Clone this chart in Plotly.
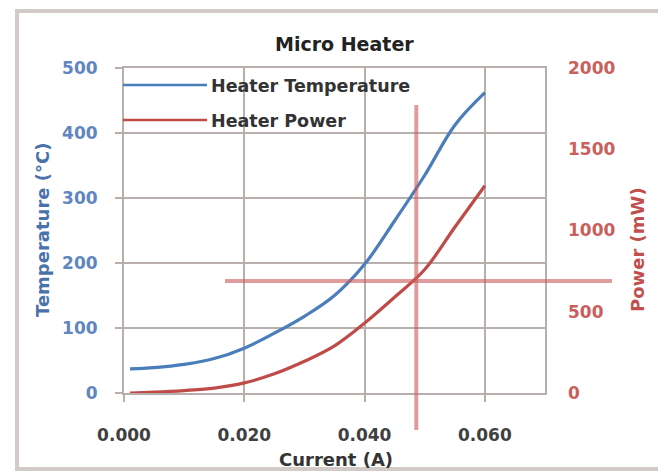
import plotly.graph_objects as go

# ---- data ----
current_a = [0.001, 0.005, 0.010, 0.015, 0.020, 0.025, 0.030, 0.035, 0.040, 0.045, 0.050, 0.055, 0.060]
temperature_c = [37, 39, 44, 53, 69, 92, 118, 150, 198, 265, 335, 412, 462]
power_mw = [0, 5, 15, 30, 62, 118, 195, 290, 430, 590, 760, 1020, 1275]

x_ticks = [0.0, 0.02, 0.04, 0.06]
temp_ticks = [0, 100, 200, 300, 400, 500]
power_ticks = [0, 500, 1000, 1500, 2000]

x_range = [0, 0.07]
temp_range = [0, 500]
power_range = [0, 2000]

op_current = 0.0486   # operating point marker (A)
op_power = 690        # operating point marker (mW)

series_names = ["Heater Temperature", "Heater Power"]
title_text = "Micro Heater"
x_title = "Current (A)"
y_title = "Temperature (°C)"
y2_title = "Power (mW)"

# ---- layout geometry (page body has an 8px margin) ----
OFF = 8
W, H = 666 - OFF, 473 - OFF
L, T = 124 - OFF, 68 - OFF
R = W - (545 - OFF)
B = H - (393 - OFF)
PW, PH = W - L - R, H - T - B

def px(xr):
    """reference-image x pixel -> paper fraction"""
    return (xr - OFF - L) / PW

def py(yr):
    """reference-image y pixel -> paper fraction"""
    return (H - B - (yr - OFF)) / PH

BLUE = "#4A7EBB"
RED = "#BE4B48"
GRID = "#B8AEAC"
FONT = "DejaVu Sans"

fig = go.Figure()
fig.add_trace(go.Scatter(x=current_a, y=temperature_c, mode="lines", name=series_names[0],
                         line=dict(color=BLUE, width=3.2, shape="spline"), yaxis="y"))
fig.add_trace(go.Scatter(x=current_a, y=power_mw, mode="lines", name=series_names[1],
                         line=dict(color=RED, width=3.2, shape="spline"), yaxis="y2"))

shapes = []
# chart border
shapes.append(dict(type="rect", xref="paper", yref="paper", x0=px(17), x1=px(661), y0=py(469), y1=py(11),
                   line=dict(color="#D2CAC6", width=4), layer="below"))
# operating point marker lines
shapes.append(dict(type="line", xref="paper", yref="paper",
                   x0=px(225), x1=px(612),
                   y0=op_power / power_range[1], y1=op_power / power_range[1],
                   line=dict(color="rgba(200,90,90,0.6)", width=4)))
shapes.append(dict(type="line", xref="paper", yref="paper",
                   x0=op_current / x_range[1], x1=op_current / x_range[1],
                   y0=py(430), y1=py(105),
                   line=dict(color="rgba(200,90,90,0.6)", width=4)))
# legend samples
shapes.append(dict(type="line", xref="paper", yref="paper", x0=px(123), x1=px(207), y0=py(85), y1=py(85),
                   line=dict(color=BLUE, width=2.5)))
shapes.append(dict(type="line", xref="paper", yref="paper", x0=px(123), x1=px(207), y0=py(120), y1=py(120),
                   line=dict(color=RED, width=2.5)))

annotations = [
    dict(text=series_names[0], xref="paper", yref="paper", x=px(209), y=py(86), xanchor="left", yanchor="middle",
         showarrow=False, font=dict(family=FONT, size=17.5, color="#333333", weight="bold")),
    dict(text=series_names[1], xref="paper", yref="paper", x=px(209), y=py(121), xanchor="left", yanchor="middle",
         showarrow=False, font=dict(family=FONT, size=17.5, color="#333333", weight="bold")),
    dict(text=title_text, xref="paper", yref="paper", x=px(344), y=py(44), xanchor="center", yanchor="middle",
         showarrow=False, font=dict(family=FONT, size=19, color="#222222", weight="bold")),
    dict(text=x_title, xref="paper", yref="paper", x=px(336), y=py(459), xanchor="center", yanchor="middle",
         showarrow=False, font=dict(family=FONT, size=18, color="#333333", weight="bold")),
    dict(text=y_title, xref="paper", yref="paper", x=px(42), y=py(230), xanchor="center", yanchor="middle",
         textangle=-90, showarrow=False, font=dict(family=FONT, size=18, color="#4A72AA", weight="bold")),
    dict(text=y2_title, xref="paper", yref="paper", x=px(637), y=py(250), xanchor="center", yanchor="middle",
         textangle=-90, showarrow=False, font=dict(family=FONT, size=18, color="#C0504D", weight="bold")),
]

fig.update_layout(
    width=W, height=H,
    margin=dict(l=L, r=R, t=T, b=B, autoexpand=False),
    paper_bgcolor="white", plot_bgcolor="white",
    showlegend=False,
    shapes=shapes, annotations=annotations,
    xaxis=dict(range=x_range, tickvals=x_ticks, tickformat=".3f", showgrid=True, gridcolor=GRID, gridwidth=2,
               showline=True, linecolor=GRID, linewidth=2, mirror=True, ticks="outside", ticklen=7,
               tickcolor=GRID, tickwidth=2, ticklabelstandoff=19, zeroline=False,
               tickfont=dict(family=FONT, size=17, color="#404040", weight="bold")),
    yaxis=dict(range=temp_range, tickvals=temp_ticks, showgrid=True, gridcolor=GRID, gridwidth=2,
               showline=True, linecolor=GRID, linewidth=2, mirror=True, ticks="outside", ticklen=7,
               tickcolor=GRID, tickwidth=2, ticklabelstandoff=14, zeroline=False,
               tickfont=dict(family=FONT, size=17, color="#5F86BE", weight="bold")),
    yaxis2=dict(range=power_range, tickvals=power_ticks, overlaying="y", side="right", showgrid=False,
                showline=False, ticks="", ticklabelstandoff=22, zeroline=False,
                tickfont=dict(family=FONT, size=17, color="#C9605C", weight="bold")),
)

fig.write_html("out.html")
